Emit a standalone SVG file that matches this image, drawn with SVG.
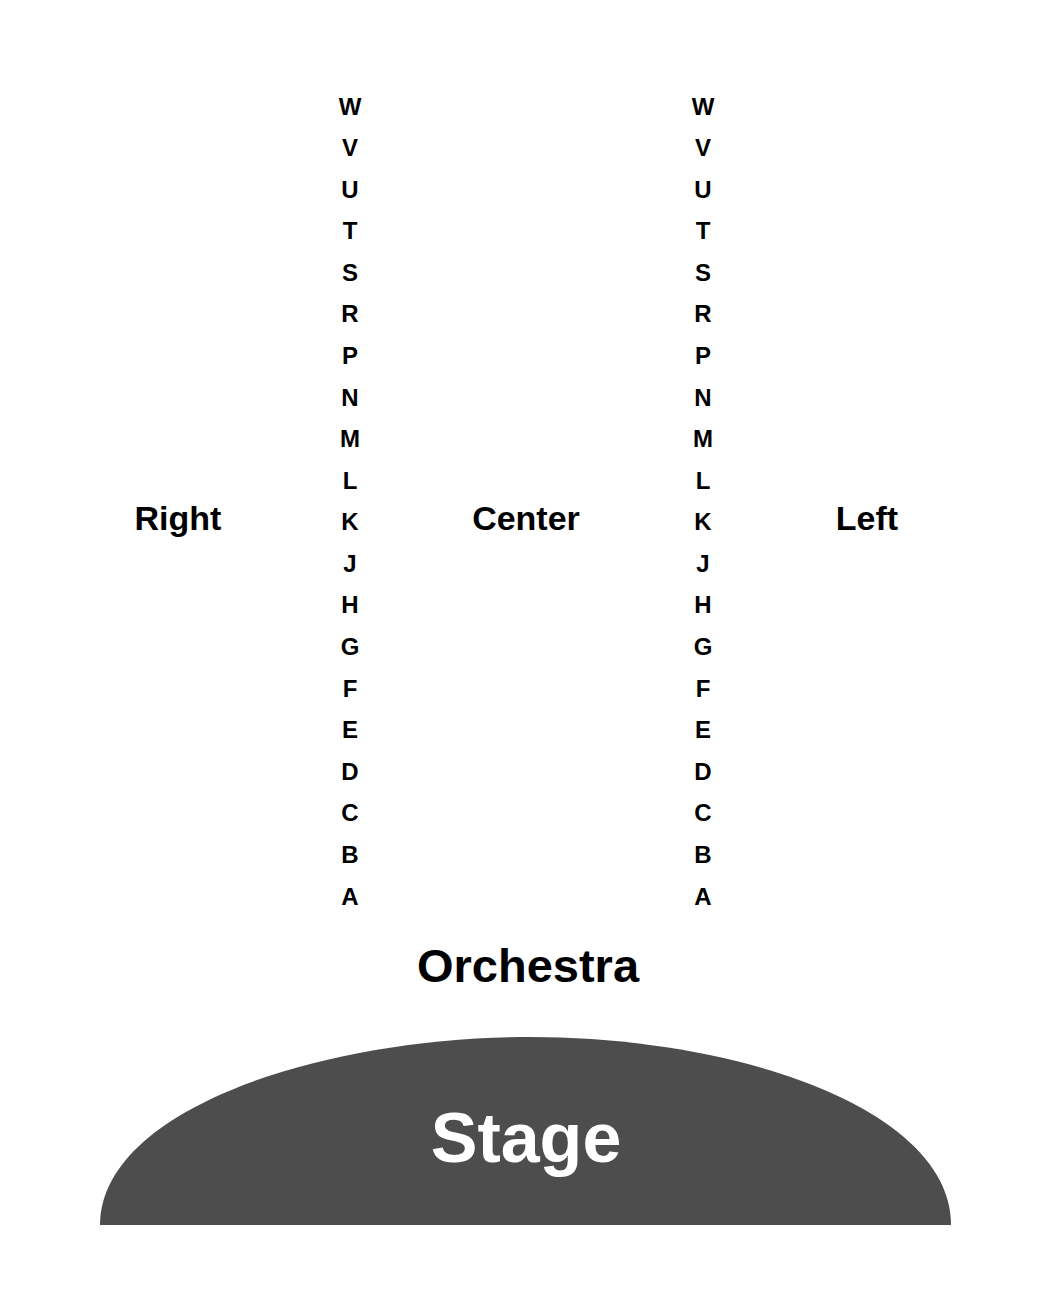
<svg xmlns="http://www.w3.org/2000/svg" width="1050" height="1300" viewBox="0 0 1050 1300">
<style>
text{font-family:"Liberation Sans",Arial,sans-serif;font-weight:bold;text-anchor:middle;fill:#000}
.row{font-size:24px}
.sec{font-size:34px}
.orch{font-size:47px}
.stage{font-size:70px;fill:#fff}
</style>
<rect width="1050" height="1300" fill="#fff"/>
<g id="stage">
<path d="M100,1225 C100,1110 320,1037 530,1037 C740,1037 951,1110 951,1225 Z" fill="#4d4d4d"/>
<text class="stage" x="526" y="1162">Stage</text>
</g>
<g id="orchestra"><text class="orch" x="528" y="982">Orchestra</text></g>
<g id="sections">
<text class="sec" x="178" y="530">Right</text>
<text class="sec" x="526" y="530">Center</text>
<text class="sec" x="867" y="530">Left</text>
</g>
<g id="rows-right">
<text class="row" x="350" y="114.5">W</text>
<text class="row" x="350" y="156.1">V</text>
<text class="row" x="350" y="197.7">U</text>
<text class="row" x="350" y="239.2">T</text>
<text class="row" x="350" y="280.8">S</text>
<text class="row" x="350" y="322.4">R</text>
<text class="row" x="350" y="364">P</text>
<text class="row" x="350" y="405.6">N</text>
<text class="row" x="350" y="447.1">M</text>
<text class="row" x="350" y="488.7">L</text>
<text class="row" x="350" y="530.3">K</text>
<text class="row" x="350" y="571.9">J</text>
<text class="row" x="350" y="613.4">H</text>
<text class="row" x="350" y="655">G</text>
<text class="row" x="350" y="696.6">F</text>
<text class="row" x="350" y="738.2">E</text>
<text class="row" x="350" y="779.8">D</text>
<text class="row" x="350" y="821.3">C</text>
<text class="row" x="350" y="862.9">B</text>
<text class="row" x="350" y="904.5">A</text>
</g>
<g id="rows-left">
<text class="row" x="703" y="114.5">W</text>
<text class="row" x="703" y="156.1">V</text>
<text class="row" x="703" y="197.7">U</text>
<text class="row" x="703" y="239.2">T</text>
<text class="row" x="703" y="280.8">S</text>
<text class="row" x="703" y="322.4">R</text>
<text class="row" x="703" y="364">P</text>
<text class="row" x="703" y="405.6">N</text>
<text class="row" x="703" y="447.1">M</text>
<text class="row" x="703" y="488.7">L</text>
<text class="row" x="703" y="530.3">K</text>
<text class="row" x="703" y="571.9">J</text>
<text class="row" x="703" y="613.4">H</text>
<text class="row" x="703" y="655">G</text>
<text class="row" x="703" y="696.6">F</text>
<text class="row" x="703" y="738.2">E</text>
<text class="row" x="703" y="779.8">D</text>
<text class="row" x="703" y="821.3">C</text>
<text class="row" x="703" y="862.9">B</text>
<text class="row" x="703" y="904.5">A</text>
</g>
</svg>
